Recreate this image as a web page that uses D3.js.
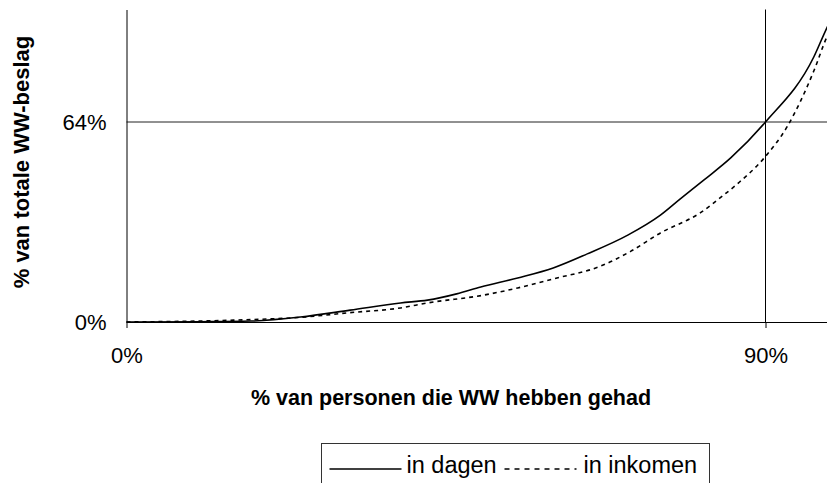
<!DOCTYPE html>
<html>
<head>
<meta charset="utf-8">
<script src="https://cdn.jsdelivr.net/npm/d3@7"></script>
<style>
  html, body { margin: 0; padding: 0; background: #fff; }
  svg { display: block; font-family: "Liberation Sans", Arial, sans-serif; }
</style>
</head>
<body>
<svg id="chart" width="827" height="483"></svg>
<script>
// cumulative share of total WW payout (%), by share of persons (%)
const pctPersonsDagen = [0, 10.4, 17.5, 24.5, 31.5, 38.6, 42.4, 46.5, 49.9, 55.1, 60.1, 64.9, 70.6, 75.2, 78.0, 81.3, 85.1, 90.0, 96.8, 98.7, 100];
const pctDagen = [0, 0.1, 0.3, 1.6, 3.8, 6.1, 7.0, 9.0, 11.2, 14.1, 17.3, 21.8, 27.8, 34.2, 39.4, 45.4, 52.5, 64.0, 84.8, 94.4, 100];
const pctPersonsInkomen = [0, 15.1, 24.5, 31.5, 38.6, 42.4, 50.3, 55.1, 60.1, 66.8, 71.0, 75.2, 80.8, 84.1, 86.2, 89.7, 93.1, 96.8, 98.7, 100];
const pctInkomen = [0, 0.6, 1.5, 3.0, 4.5, 6.1, 8.6, 10.9, 13.8, 17.9, 22.6, 28.5, 34.9, 40.6, 44.5, 52.2, 62.7, 80.3, 91.5, 97];
const xTicks = [0, 90];
const yTicks = [0, 64];
const seriesNames = ["in dagen", "in inkomen"];

const svg = d3.select("#chart");

const x = d3.scaleLinear().domain([0, 100]).range([126.5, 836.5]);
const y = d3.scaleLinear().domain([0, 100]).range([322, 9.5]);

const fmt = (d) => d + "%";

// gridlines
svg
  .append("line")
  .attr("x1", x(0))
  .attr("x2", x(100))
  .attr("y1", y(64))
  .attr("y2", y(64))
  .attr("stroke", "#222")
  .attr("stroke-width", 1);

svg
  .append("line")
  .attr("x1", x(90))
  .attr("x2", x(90))
  .attr("y1", y(100))
  .attr("y2", y(0))
  .attr("stroke", "#000")
  .attr("stroke-width", 1);

// axes
svg
  .append("g")
  .attr("transform", `translate(0, ${y(0)})`)
  .call(
    d3.axisBottom(x).tickValues(xTicks).tickSize(6).tickSizeOuter(0).tickPadding(19).tickFormat(fmt)
  );

svg
  .append("g")
  .attr("transform", `translate(${x(0)}, 0)`)
  .call(d3.axisLeft(y).tickValues(yTicks).tickSize(0).tickPadding(20).tickFormat(fmt));

svg.selectAll(".domain").attr("stroke", "#000");
svg.selectAll(".tick line").attr("stroke", "#000");
svg
  .selectAll(".tick text")
  .attr("fill", "#000")
  .style("font-family", "Liberation Sans, Arial, sans-serif")
  .style("font-size", "22px");

// lines
const line = d3
  .line()
  .x((d) => x(d[0]))
  .y((d) => y(d[1]))
  .curve(d3.curveMonotoneX);

svg
  .append("path")
  .datum(pctPersonsDagen.map((p, i) => [p, pctDagen[i]]))
  .attr("fill", "none")
  .attr("stroke", "#000")
  .attr("stroke-width", 1.6)
  .attr("d", line);

svg
  .append("path")
  .datum(pctPersonsInkomen.map((p, i) => [p, pctInkomen[i]]))
  .attr("fill", "none")
  .attr("stroke", "#000")
  .attr("stroke-width", 1.6)
  .attr("stroke-dasharray", "4,4")
  .attr("d", line);

// axis titles
svg
  .append("text")
  .attr("x", 451)
  .attr("y", 405)
  .style("text-anchor", "middle")
  .style("font-weight", "bold")
  .style("font-size", "21.5px")
  .text("% van personen die WW hebben gehad");

svg
  .append("text")
  .attr("transform", "translate(29, 162) rotate(-90)")
  .style("text-anchor", "middle")
  .style("font-weight", "bold")
  .style("font-size", "22px")
  .text("% van totale WW-beslag");

// legend
const legend = svg.append("g").attr("transform", "translate(321.5, 443.5)");

legend
  .append("rect")
  .attr("width", 388)
  .attr("height", 60)
  .attr("fill", "#fff")
  .attr("stroke", "#333");

const items = legend
  .selectAll(".legend")
  .data(seriesNames)
  .enter()
  .append("g")
  .attr("class", "legend")
  .attr("transform", (d, i) => `translate(${i === 0 ? 8 : 183}, 25.5)`);

items
  .append("line")
  .attr("x1", 0)
  .attr("x2", 72)
  .attr("stroke", "#000")
  .attr("stroke-width", 1.6)
  .attr("stroke-dasharray", (d, i) => (i === 0 ? null : "5,5"));

items
  .append("text")
  .attr("x", (d, i) => (i === 0 ? 77 : 79))
  .attr("y", 4)
  .style("font-size", "23.5px")
  .text((d) => d);
</script>
</body>
</html>
